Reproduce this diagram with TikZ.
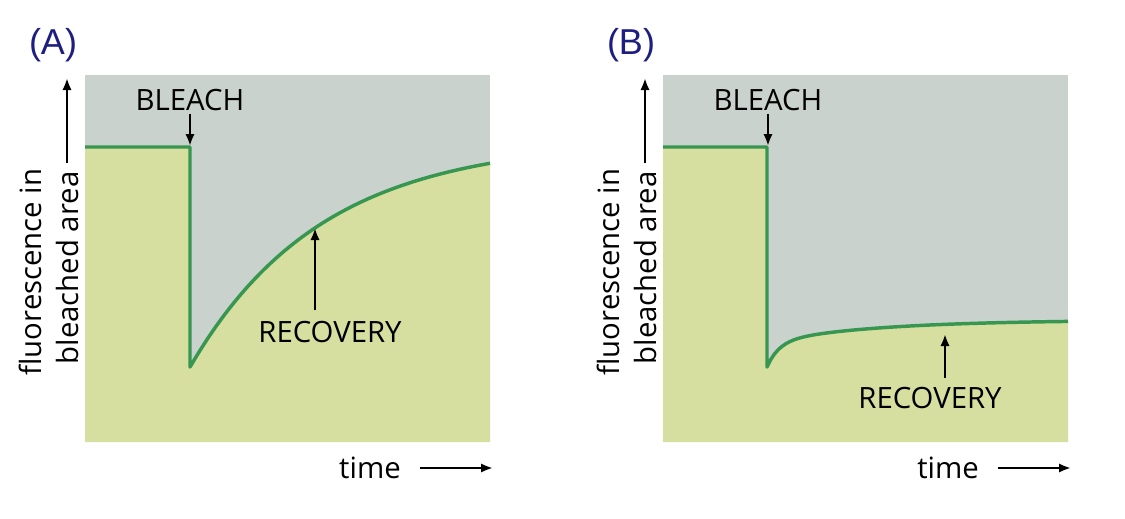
\documentclass[tikz,border=0pt]{standalone}
\usepackage{fontspec}
\usetikzlibrary{arrows.meta}
\setmainfont{Open Sans}
\newfontfamily\labfont{Liberation Sans}
\begin{document}
\begin{tikzpicture}[x=0.75pt,y=-0.75pt,
  lbl/.style={font=\fontsize{22}{24}\selectfont, inner sep=0pt},
  tag/.style={font=\labfont\fontsize{27}{29}\selectfont, text={rgb,255:red,30;green,30;blue,130}, inner sep=0pt},
  arr/.style={-{Latex[length=9pt,width=7pt]}, line width=2pt},
  curve/.style={line width=2.6pt, draw={rgb,255:red,55;green,150;blue,80}, line join=round}]
\definecolor{bgray}{RGB}{202,210,206}
\definecolor{bgreen}{RGB}{214,223,160}
\useasboundingbox (0,0) rectangle (1125,518);
\fill[white] (0,0) rectangle (1125,518);
% panel A
\fill[bgray] (85,75) rectangle (490,442);
\fill[bgreen] (85,442) -- (85,147) -- (190,147) -- (190,367) -- plot[domain=190:490,samples=60] (\x,{140+227*exp(-(\x-190)/131.8)}) -- (490,442) -- cycle;
\draw[curve] (85,147) -- (190,147) -- (190,367) -- plot[domain=190:490,samples=60] (\x,{140+227*exp(-(\x-190)/131.8)});
% panel B
\fill[bgray] (663,75) rectangle (1068,442);
\fill[bgreen] (663,442) -- (663,147) -- (767,147) -- (767,367) -- plot[domain=767:1068,samples=80] (\x,{320+22*exp(-(\x-767)/110)+25*exp(-(\x-767)/12)}) -- (1068,442) -- cycle;
\draw[curve] (663,147) -- (767,147) -- (767,367) -- plot[domain=767:1068,samples=80] (\x,{320+22*exp(-(\x-767)/110)+25*exp(-(\x-767)/12)});
% tags
\node[tag] (ta) at (53,45) {(A)};
\node[tag] (tb) at (631,45) {(B)};
% bleach
\node[lbl] (bla) at (190,100) {BLEACH};
\coordinate (bla2) at (190,146);
\draw[arr] ([yshift=-2]bla.south) -- (bla2);
\node[lbl] (blb) at (768,100) {BLEACH};
\coordinate (blb2) at (768,146);
\draw[arr] ([yshift=-2]blb.south) -- (blb2);
% recovery
\node[lbl] (rca) at (330,332) {RECOVERY};
\coordinate (rca1) at (315,310);
\coordinate (rca2) at (315,228);
\draw[arr] (rca1) -- (rca2);
\node[lbl] (rcb) at (930,398) {RECOVERY};
\coordinate (rcb1) at (945,378);
\coordinate (rcb2) at (945,334);
\draw[arr] (rcb1) -- (rcb2);
% y labels and time
\foreach \p/\x in {a/0,b/578}{
  \node[lbl,rotate=90] (ya\p) at (30+\x,272) {fluorescence in};
  \node[lbl,rotate=90] (yb\p) at (67+\x,268) {bleached area};
  \coordinate (ye\p) at (67+\x,78);
  \draw[arr] ([yshift=6]yb\p.east) -- (ye\p);
  \node[lbl] (tm\p) at (370+\x,468) {time};
  \coordinate (te\p) at (493+\x,468);
  \draw[arr] ([xshift=14]tm\p.east) -- (te\p);
}
\end{tikzpicture}
\end{document}
